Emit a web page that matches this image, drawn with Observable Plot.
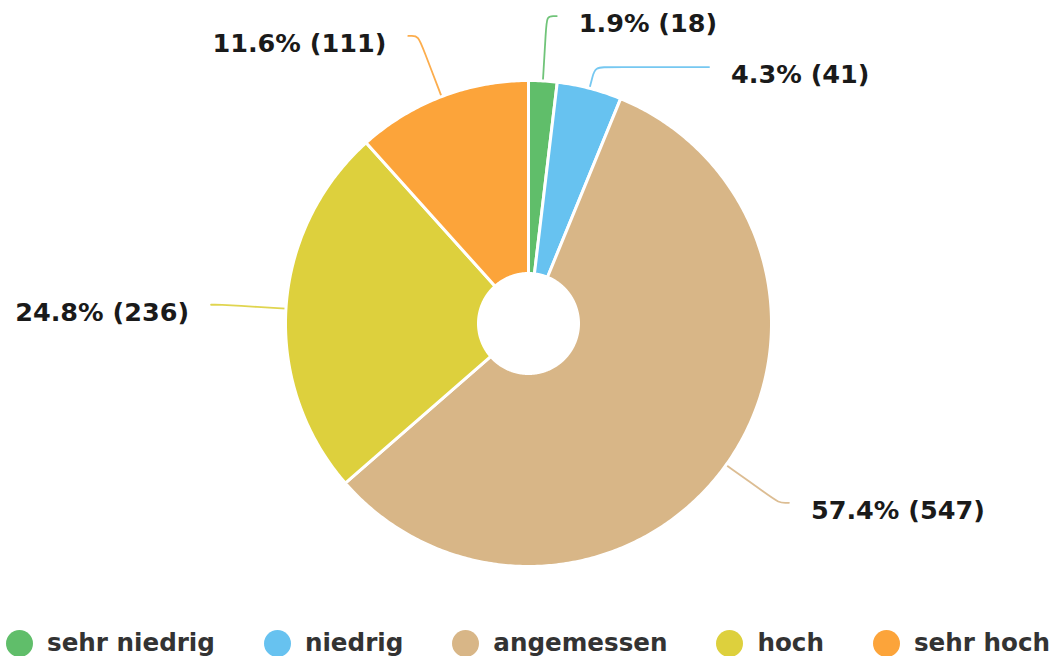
<!DOCTYPE html>
<html>
<head>
<meta charset="utf-8">
<script src="https://cdn.jsdelivr.net/npm/d3@7"></script>
<script src="https://cdn.jsdelivr.net/npm/@observablehq/plot@0.6"></script>
<style>
  html, body { margin: 0; padding: 0; background: #fff; overflow: hidden; }
  body { width: 1056px; height: 656px; font-family: "DejaVu Sans", sans-serif; }
  #legend { display: flex; align-items: center; height: 28px; margin-top: 14px; padding-left: 6px; white-space: nowrap; }
  .item { display: flex; align-items: center; margin-right: 49px; flex: none; }
  .sw { width: 27px; height: 27px; border-radius: 50%; flex: none; }
  .lab { margin-left: 14px; font-size: 24.6px; font-weight: bold; color: #333; line-height: 28px; }
</style>
</head>
<body>
<div id="chart"></div>
<div id="legend"></div>
<script>
// ---- data ----
const categories = ["sehr niedrig", "niedrig", "angemessen", "hoch", "sehr hoch"];
const counts = [18, 41, 547, 236, 111];
const colors = ["#60be6a", "#67c2f0", "#d8b687", "#ddd03d", "#fca43a"];

// ---- layout ----
const W = 1056, H = 615;
const cx = 528, cy = 323, R = 243, R0 = 50;
const L1 = 65, L2 = 10, GAP = 22, MINSEP = 51;

const total = d3.sum(counts);
const arcs = d3.pie().sort(null).startAngle(0).endAngle(2 * Math.PI)(counts);
const pt = (a, r) => [cx + r * Math.sin(a), cy - r * Math.cos(a)];

// slice polygons
const slicePts = [];
arcs.forEach((a, i) => {
  const n = Math.max(8, Math.ceil((a.endAngle - a.startAngle) / 0.01));
  for (let k = 0; k <= n; k++) {
    const t = a.startAngle + (a.endAngle - a.startAngle) * k / n;
    const [x, y] = pt(t, R);
    slicePts.push({cat: categories[i], x, y});
  }
  for (let k = n; k >= 0; k--) {
    const t = a.startAngle + (a.endAngle - a.startAngle) * k / n;
    const [x, y] = pt(t, R0);
    slicePts.push({cat: categories[i], x, y});
  }
});

// labels
const labels = arcs.map((a, i) => {
  const mid = (a.startAngle + a.endAngle) / 2;
  const dir = [Math.sin(mid), -Math.cos(mid)];
  const edge = pt(mid, R);
  const nat = pt(mid, R + L1);
  return {
    cat: categories[i], i, mid, dir, edge, ly: nat[1],
    right: dir[0] >= 0,
    text: (counts[i] / total * 100).toFixed(1) + "% (" + counts[i] + ")"
  };
});
// simple overlap avoidance per side
for (const side of [true, false]) {
  const s = labels.filter(d => d.right === side).sort((a, b) => a.ly - b.ly);
  for (let k = 1; k < s.length; k++) {
    if (s[k].ly < s[k - 1].ly + MINSEP) s[k].ly = s[k - 1].ly + MINSEP;
  }
}
const leaderPts = [];
labels.forEach(d => {
  const A = d.edge;
  const t = (d.ly - A[1]) / d.dir[1];
  const B = [A[0] + d.dir[0] * t, d.ly];
  const dy = d.ly - cy;
  const RR = R + L1;
  const ex = Math.sqrt(Math.max(0, RR * RR - dy * dy));
  const sgn = d.right ? 1 : -1;
  const C = [cx + sgn * (ex + L2), d.ly];
  d.end = C;
  const lerp = (P, Q, f) => [P[0] + (Q[0] - P[0]) * f, P[1] + (Q[1] - P[1]) * f];
  const dist = (P, Q) => Math.hypot(P[0] - Q[0], P[1] - Q[1]) || 1;
  const P1 = lerp(B, A, Math.min(14 / dist(A, B), 0.5));
  const P2 = lerp(B, C, Math.min(14 / dist(B, C), 0.7));
  [A, A, P1, B, P2, C, C].forEach(p => leaderPts.push({cat: d.cat, x: p[0], y: p[1]}));
});
const textData = labels.map(d => ({cat: d.cat, x: d.end[0], y: d.end[1], text: d.text, right: d.right}));

const chart = Plot.plot({
  width: W, height: H,
  margin: 0,
  x: {domain: [0, W], range: [0, W], axis: null},
  y: {domain: [0, H], range: [0, H], axis: null},
  color: {domain: categories, range: colors},
  style: {fontFamily: "DejaVu Sans", background: "#fff"},
  marks: [
    Plot.line(leaderPts, {x: "x", y: "y", z: "cat", stroke: "cat", strokeWidth: 1.8, strokeOpacity: 0.9, curve: "basis"}),
    Plot.line(slicePts, {x: "x", y: "y", z: "cat", fill: "cat", stroke: "#fff", strokeWidth: 3, strokeLinejoin: "round", curve: "linear-closed"}),
    Plot.text(textData.filter(d => d.right), {x: "x", y: "y", text: "text", textAnchor: "start", dx: GAP, dy: 8, fontSize: 25.5, fontWeight: "bold", fill: "#1a1a1a"}),
    Plot.text(textData.filter(d => !d.right), {x: "x", y: "y", text: "text", textAnchor: "end", dx: -GAP, dy: 8, fontSize: 25.5, fontWeight: "bold", fill: "#1a1a1a"})
  ]
});
document.getElementById("chart").appendChild(chart);

// legend
const leg = document.getElementById("legend");
categories.forEach((c, i) => {
  const it = document.createElement("div");
  it.className = "item";
  const sw = document.createElement("span");
  sw.className = "sw";
  sw.style.background = colors[i];
  const lb = document.createElement("span");
  lb.className = "lab";
  lb.textContent = c;
  it.appendChild(sw); it.appendChild(lb);
  leg.appendChild(it);
});
</script>
</body>
</html>
